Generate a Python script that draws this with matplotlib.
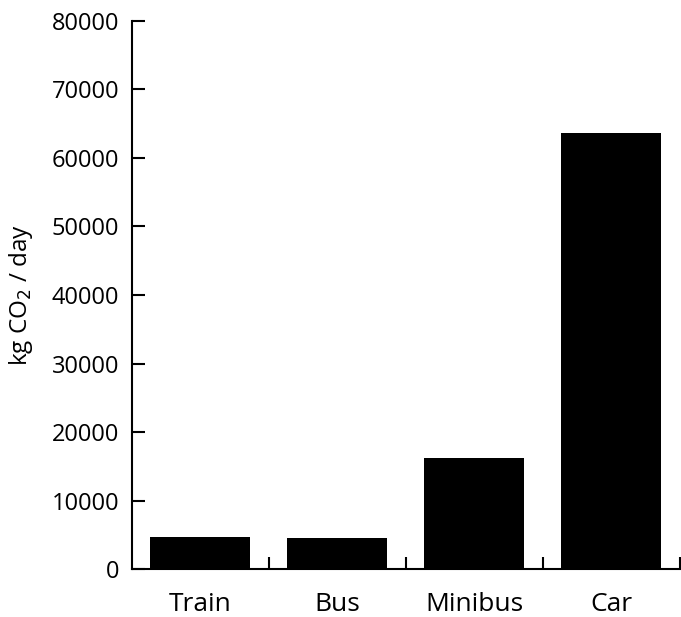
import numpy as np
import matplotlib
matplotlib.use("Agg")
import matplotlib.pyplot as plt
from matplotlib.ticker import FixedLocator

plt.rcParams["font.family"] = ["Open Sans", "DejaVu Sans"]

# values
modes = ["Train", "Bus", "Minibus", "Car"]
emissions = [4780, 4640, 16210, 63600]
y_ticks = [0, 10000, 20000, 30000, 40000, 50000, 60000, 70000, 80000]

fig = plt.figure(figsize=(6.81, 6.17), dpi=100)
ax = fig.add_axes([0.1934, 0.0771, 0.805, 0.8893])

x = np.arange(len(modes))
ax.bar(x, emissions, width=0.73, color="black")

ax.set_xlim(-0.5, len(modes) - 0.5)
ax.set_ylim(0, 80000)
ax.set_yticks(y_ticks)
ax.set_yticklabels([str(t) for t in y_ticks], fontsize=17)
ax.set_xticks(x)
ax.set_xticklabels(modes, fontsize=19)
# small upward ticks between the categories
ax.xaxis.set_minor_locator(FixedLocator(list(x + 0.5)))

ax.tick_params(axis="x", which="major", length=0, pad=16)
ax.tick_params(axis="x", which="minor", direction="in", length=9, width=1.5)
ax.tick_params(axis="y", direction="in", length=9, width=1.5, pad=9)

for side in ["top", "right"]:
    ax.spines[side].set_visible(False)
for side in ["left", "bottom"]:
    ax.spines[side].set_linewidth(1.5)

ax.set_ylabel("kg CO$_2$ / day", fontsize=17.5, labelpad=12)

fig.savefig("out.png", dpi=100)
